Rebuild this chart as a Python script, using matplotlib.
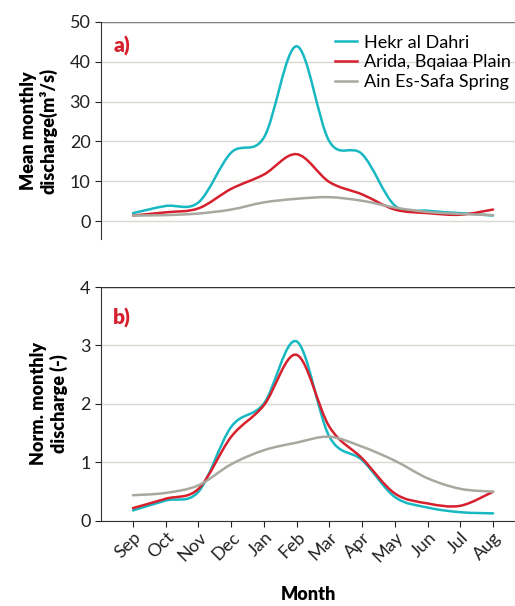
import numpy as np
import matplotlib
matplotlib.use("Agg")
import matplotlib.pyplot as plt
from matplotlib.path import Path
from matplotlib.patches import PathPatch
from matplotlib.lines import Line2D

plt.rcParams['font.family'] = ['Lato', 'DejaVu Sans']

months = ["Sep", "Oct", "Nov", "Dec", "Jan", "Feb", "Mar", "Apr", "May", "Jun", "Jul", "Aug"]
series_names = ["Hekr al Dahri", "Arida, Bqaiaa Plain", "Ain Es-Safa Spring"]
colors = ["#17b8c2", "#d6202e", "#a9a89f"]

# mean monthly discharge (m3/s)
hekr_mean = [2.0, 3.8, 4.7, 17.2, 21.0, 43.9, 20.0, 16.8, 3.9, 2.6, 2.0, 1.4]
arida_mean = [1.4, 2.2, 3.2, 8.1, 11.7, 16.8, 9.8, 6.7, 2.9, 2.0, 1.6, 2.9]
safa_mean = [1.4, 1.5, 1.9, 2.9, 4.7, 5.6, 6.0, 5.1, 3.4, 2.3, 1.8, 1.5]

# normalised monthly discharge (-)
hekr_norm = [0.18, 0.35, 0.50, 1.61, 2.01, 3.07, 1.44, 1.04, 0.41, 0.23, 0.15, 0.13]
arida_norm = [0.22, 0.38, 0.55, 1.44, 1.98, 2.84, 1.61, 1.07, 0.47, 0.30, 0.26, 0.50]
safa_norm = [0.44, 0.48, 0.61, 0.97, 1.21, 1.34, 1.44, 1.27, 1.03, 0.73, 0.55, 0.50]


def smooth_line(ax, x, y, color):
    # excel-like smoothed line: cubic bezier through the points
    x = np.asarray(x, float)
    y = np.asarray(y, float)
    pts = np.column_stack([x, y])
    n = len(pts)
    verts = [pts[0]]
    codes = [Path.MOVETO]
    for i in range(n - 1):
        p0 = pts[i - 1] if i > 0 else pts[i]
        p1 = pts[i]
        p2 = pts[i + 1]
        p3 = pts[i + 2] if i + 2 < n else pts[i + 1]
        c1 = p1 + (p2 - p0) / 6.0
        c2 = p2 - (p3 - p1) / 6.0
        verts += [c1, c2, p2]
        codes += [Path.CURVE4] * 3
    ax.add_patch(PathPatch(Path(verts, codes), facecolor="none", edgecolor=color,
                           lw=1.8, zorder=3, capstyle="round", joinstyle="round"))


fig = plt.figure(figsize=(5.15, 6.06), dpi=100)
ax1 = fig.add_axes([0.196, 0.6056, 0.804, 0.3581])
ax2 = fig.add_axes([0.196, 0.1403, 0.804, 0.3861])

x = np.arange(len(months))

for ax, data in [(ax1, [hekr_mean, arida_mean, safa_mean]),
                 (ax2, [hekr_norm, arida_norm, safa_norm])]:
    for vals, c in zip(data, colors):
        smooth_line(ax, x, vals, c)
    ax.set_xlim(-0.98, 11.67)
    ax.grid(axis="y", color="#d9d9d2", lw=1.0, zorder=0)
    ax.set_axisbelow(True)
    ax.spines["right"].set_visible(False)
    ax.spines["top"].set_visible(False)
    ax.spines["left"].set_color("#333333")
    ax.tick_params(axis="y", labelsize=13, colors="#222222", length=4, width=0.8)

bold = dict(fontsize=13, fontweight="heavy")

# top panel
ax1.set_ylim(-4.5, 50)
ax1.set_yticks([0, 10, 20, 30, 40, 50])
ax1.spines["bottom"].set_visible(False)
ax1.set_xticks([])
ax1.axhline(50, color="#7f7f7f", lw=1.0, zorder=1)
ax1.set_ylabel("Mean monthly\ndischarge(m³/s)", labelpad=9, linespacing=1.15, **bold)
ax1.text(0.03, 0.86, "a)", transform=ax1.transAxes, color="#d6202e",
         fontsize=15, fontweight="heavy")
handles = [Line2D([], [], color=c, lw=1.8) for c in colors]
ax1.legend(handles, series_names, loc="upper right", bbox_to_anchor=(1.02, 1.0),
           frameon=False, fontsize=13, handlelength=1.2, handletextpad=0.4,
           labelspacing=0.2, borderaxespad=0.3)

# bottom panel
ax2.set_ylim(0, 4)
ax2.set_yticks([0, 1, 2, 3, 4])
ax2.axhline(4, color="#333333", lw=1.0, zorder=1)
ax2.spines["bottom"].set_color("#333333")
ax2.set_xticks(x)
ax2.set_xticklabels(months, rotation=45, ha="right", rotation_mode="anchor")
ax2.tick_params(axis="x", labelsize=13, colors="#222222", length=4, width=0.8, pad=2)
ax2.set_ylabel("Norm. monthly\ndischarge (-)", labelpad=9, linespacing=1.15, **bold)
ax2.set_xlabel("Month", labelpad=15, **bold)
ax2.text(0.03, 0.84, "b)", transform=ax2.transAxes, color="#d6202e",
         fontsize=15, fontweight="heavy")

fig.savefig("out.png", dpi=100)
